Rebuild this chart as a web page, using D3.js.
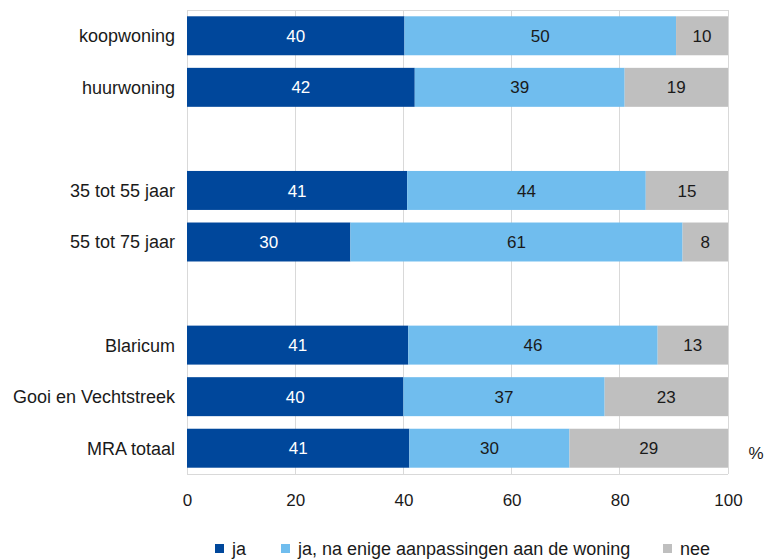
<!DOCTYPE html>
<html><head><meta charset="utf-8">
<script src="https://cdn.jsdelivr.net/npm/d3@7"></script>
<style>body{margin:0;background:#fff}svg{display:block}text{font-family:"Liberation Sans","Open Sans",sans-serif}</style>
</head><body>
<script>
const categories = ["koopwoning","huurwoning","","35 tot 55 jaar","55 tot 75 jaar"," ","Blaricum","Gooi en Vechtstreek","MRA totaal"];
const ja =      [40.2, 42.1, null, 40.7, 30.2, null, 40.9, 40.0, 41.1];
const jaNa =    [50.2, 38.8, null, 44.1, 61.4, null, 46.1, 37.2, 29.6];
const nee =     [ 9.6, 19.1, null, 15.2,  8.4, null, 13.0, 22.8, 29.3];
const seriesNames = ["ja","ja, na enige aanpassingen aan de woning","nee"];
const colors = ["#00479b","#70bdee","#bfbfbf"];
const labelColors = ["#ffffff","#1a1a1a","#1a1a1a"];
const xTicks = [0,20,40,60,80,100];

const W=764,H=560;
const svg=d3.select("body").append("svg").attr("width",W).attr("height",H);
const x=d3.scaleLinear().domain([0,100]).range([187,728]);
const y=d3.scaleBand().domain(categories).range([10,474]).paddingInner(0.244).paddingOuter(0.122);

// grid
svg.append("g").selectAll("line").data(xTicks.slice(1)).join("line")
 .attr("x1",d=>x(d)).attr("x2",d=>x(d)).attr("y1",10).attr("y2",474)
 .attr("stroke","#d9d9d9").attr("stroke-width",1).attr("shape-rendering","crispEdges");
svg.append("line").attr("x1",x(0)).attr("x2",x(100)).attr("y1",10).attr("y2",10).attr("stroke","#d9d9d9").attr("shape-rendering","crispEdges");
svg.append("line").attr("x1",x(0)).attr("x2",x(100)).attr("y1",474).attr("y2",474).attr("stroke","#d9d9d9").attr("shape-rendering","crispEdges");
svg.append("line").attr("x1",x(0)).attr("x2",x(0)).attr("y1",10).attr("y2",474).attr("stroke","#d9d9d9").attr("shape-rendering","crispEdges");

const series=[ja,jaNa,nee];
const rows=categories.map((c,i)=>{let acc=0;return series.map((s,k)=>{const v=s[i];const r={cat:c,k,v,x0:acc,x1:acc+(v||0)};acc+=v||0;return r;});}).flat().filter(d=>d.v!=null);

svg.append("g").selectAll("rect").data(rows).join("rect")
 .attr("x",d=>x(d.x0)).attr("width",d=>x(d.x1)-x(d.x0))
 .attr("y",d=>y(d.cat)).attr("height",y.bandwidth())
 .attr("fill",d=>colors[d.k]);
svg.append("g").selectAll("text").data(rows).join("text")
 .attr("x",d=>x((d.x0+d.x1)/2)).attr("y",d=>y(d.cat)+y.bandwidth()/2)
 .attr("dy","0.36em").attr("text-anchor","middle").attr("font-size",17)
 .attr("fill",d=>labelColors[d.k]).text(d=>Math.round(d.v));

// y labels
svg.append("g").selectAll("text").data(categories.filter(c=>c.trim()!=="")).join("text")
 .attr("x",175).attr("y",d=>y(d)+y.bandwidth()/2).attr("dy","0.36em")
 .attr("text-anchor","end").attr("font-size",18).attr("fill","#1a1a1a").text(d=>d);

// x axis
const xa=svg.append("g").attr("transform","translate(0,474)").call(d3.axisBottom(x).tickValues(xTicks).tickSize(0).tickPadding(20));
xa.select(".domain").remove();
xa.selectAll("text").attr("font-size",17).attr("fill","#1a1a1a").attr("font-family","Liberation Sans, sans-serif");
svg.append("text").attr("x",756).attr("y",453).attr("dy","0.36em").attr("text-anchor","middle").attr("font-size",17).attr("fill","#1a1a1a").text("%");

// legend
const legX=[215,281,663];
const lg=svg.append("g").selectAll("g").data(seriesNames).join("g").attr("transform",(d,i)=>`translate(${legX[i]},549)`);
lg.append("rect").attr("x",0).attr("y",-5).attr("width",9).attr("height",9).attr("fill",(d,i)=>colors[i]);
lg.append("text").attr("x",17).attr("y",0).attr("dy","0.36em").attr("font-size",18).attr("fill","#1a1a1a").text(d=>d);
</script>
</body></html>
